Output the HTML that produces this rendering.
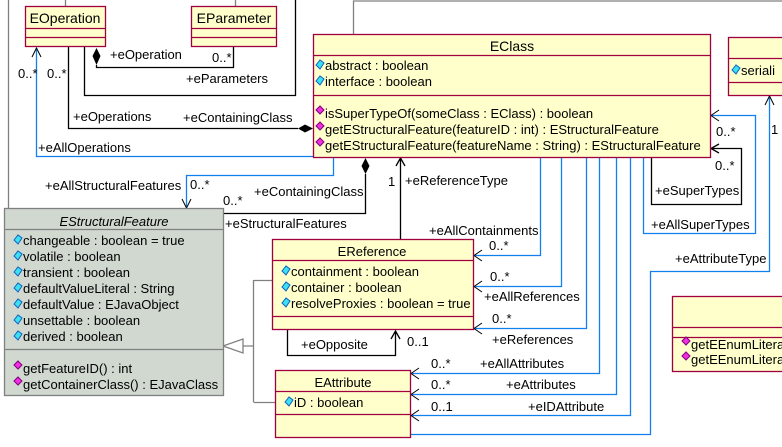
<!DOCTYPE html>
<html><head><meta charset="utf-8"><style>
html,body{margin:0;padding:0;background:#fff;}
svg{display:block;font-family:"Liberation Sans",sans-serif;font-size:13px;}
</style></head><body>
<svg width="782" height="447" viewBox="0 0 782 447" xmlns="http://www.w3.org/2000/svg">
<defs>
<g id="ad"><path d="M0,5 L4,0 L8,3 L4,9 Z" fill="#3ee0f0" stroke="#1060c0" stroke-width="1"/></g>
<g id="od"><path d="M0,4 L4,0 L8,4 L4,8 Z" fill="#f030e0" stroke="#800080" stroke-width="1"/></g>
</defs>
<g fill="none" stroke="#808080" stroke-width="1.3">
<path d="M8.5,0 V209"/><path d="M353.5,34 V1 H782"/><path d="M65.5,0 V6"/><path d="M235.5,0 V6"/>
<path d="M243,346 H253.5 M253.5,280 V402 M253.5,280.5 H272 M253.5,402.5 H275"/>
<path d="M223,346 L243,339 L243,353 Z" fill="#fff"/>
</g>
<g fill="none" stroke="#000" stroke-width="1.3">
<path d="M84.5,47 V95.5 H295.5 V0"/>
<path d="M96.5,65 V67.5 H233.5 V46"/>
<path d="M68.5,47 V128.5 H298"/>
<path d="M365.5,174 V213.5 H224"/>
<path d="M400.5,239 V158 M396,166 L400.5,158 L405,166"/>
<path d="M651.5,157 V204.5 H741.5 V148.5 H711 M719,144 L711,148.5 L719,153"/>
<path d="M287.5,330 V355.5 H395.5 V331 M391,339 L395.5,331 L400,339"/>
</g>
<path d="M96.5,48 L100.5,56 L96.5,65 L92.5,56 Z" fill="#000"/>
<path d="M298,128.5 L305,124.5 L313,128.5 L305,132.5 Z" fill="#000"/>
<path d="M365.5,158 L369.5,166 L365.5,174 L361.5,166 Z" fill="#000"/>
<g fill="none" stroke="#1080f0" stroke-width="1.3">
<path d="M36.5,48 V156.5 H313"/>
<path d="M333.5,157 V175.5 H186.5 V207"/>
<path d="M540.5,157 V255.5 H474"/>
<path d="M561.5,157 V286.5 H474"/>
<path d="M586.5,157 V328.5 H474"/>
<path d="M599.5,157 V373.5 H411"/>
<path d="M616.5,157 V394.5 H411"/>
<path d="M630.5,157 V415.5 H411"/>
<path d="M643.5,157 V233.5 H755.5 V115.5 H711"/>
<path d="M769.5,96 V271.5 H650.5 V434.5 H411"/>
</g>
<g fill="none" stroke="#000" stroke-width="1">
<path d="M32,57 L36.5,48 L41,57"/>
<path d="M182,199 L186.5,208 L191,199"/>
<path d="M482,250 L474,255.5 L482,261"/>
<path d="M482,281 L474,286.5 L482,292"/>
<path d="M482,323 L474,328.5 L482,334"/>
<path d="M419,368 L411,373.5 L419,379"/>
<path d="M419,389 L411,394.5 L419,400"/>
<path d="M419,410 L411,415.5 L419,421"/>
<path d="M719,110 L711,115.5 L719,121"/>
<path d="M765,105 L769.5,96 L774,105"/>
</g>
<g stroke="#a00040" stroke-width="1.3" fill="#ffffcc">
<rect x="25.5" y="6.5" width="80" height="40"/><path d="M25.5,28.5 H105.5 M25.5,37.5 H105.5"/>
<rect x="191.5" y="6.5" width="85" height="40"/><path d="M191.5,28.5 H276.5 M191.5,37.5 H276.5"/>
<rect x="313.5" y="34.5" width="397" height="123"/><path d="M313.5,55.5 H710.5 M313.5,95.5 H710.5"/>
<rect x="728.5" y="37.5" width="60" height="58"/><path d="M728.5,58.5 H782 M728.5,82.5 H782"/>
<rect x="272.5" y="239.5" width="201" height="90"/><path d="M272.5,260.5 H473.5 M272.5,316.5 H473.5"/>
<rect x="275.5" y="370.5" width="135" height="67"/><path d="M275.5,391.5 H410.5 M275.5,414.5 H410.5"/>
<rect x="672.5" y="296.5" width="120" height="75"/><path d="M672.5,327.5 H782 M672.5,337.5 H782"/>
</g>
<g stroke="#808080" stroke-width="1.3" fill="#d0d8d0">
<rect x="4.5" y="208.5" width="219" height="187"/><path d="M4.5,229.5 H223.5 M4.5,349.5 H223.5"/>
</g>
<g fill="#000">
<text x="65" y="23" text-anchor="middle" font-size="14">EOperation</text>
<text x="234" y="23" text-anchor="middle" font-size="14">EParameter</text>
<text x="512" y="51" text-anchor="middle" font-size="14">EClass</text>
<use href="#ad" x="316" y="60"/><text x="325" y="70">abstract : boolean</text>
<use href="#ad" x="316" y="76"/><text x="325" y="86">interface : boolean</text>
<use href="#od" x="316" y="106"/><text x="325" y="118">isSuperTypeOf(someClass : EClass) : boolean</text>
<use href="#od" x="316" y="122"/><text x="325" y="134">getEStructuralFeature(featureID : int) : EStructuralFeature</text>
<use href="#od" x="316" y="138"/><text x="325" y="150">getEStructuralFeature(featureName : String) : EStructuralFeature</text>
<use href="#ad" x="732" y="65"/><text x="741" y="75">seriali</text>
<text x="114" y="226" text-anchor="middle" font-style="italic">EStructuralFeature</text>
<use href="#ad" x="14" y="235"/><text x="23" y="245">changeable : boolean = true</text>
<use href="#ad" x="14" y="251"/><text x="23" y="261">volatile : boolean</text>
<use href="#ad" x="14" y="267"/><text x="23" y="277">transient : boolean</text>
<use href="#ad" x="14" y="283"/><text x="23" y="293">defaultValueLiteral : String</text>
<use href="#ad" x="14" y="299"/><text x="23" y="309">defaultValue : EJavaObject</text>
<use href="#ad" x="14" y="315"/><text x="23" y="325">unsettable : boolean</text>
<use href="#ad" x="14" y="331"/><text x="23" y="341">derived : boolean</text>
<use href="#od" x="14" y="361"/><text x="23" y="373">getFeatureID() : int</text>
<use href="#od" x="14" y="377"/><text x="23" y="389">getContainerClass() : EJavaClass</text>
<text x="372" y="256" text-anchor="middle">EReference</text>
<use href="#ad" x="282" y="266"/><text x="291" y="276">containment : boolean</text>
<use href="#ad" x="282" y="282"/><text x="291" y="292">container : boolean</text>
<use href="#ad" x="282" y="298"/><text x="291" y="308">resolveProxies : boolean = true</text>
<text x="343" y="387" text-anchor="middle">EAttribute</text>
<use href="#ad" x="285" y="397"/><text x="294" y="407">iD : boolean</text>
<use href="#od" x="682" y="337"/><text x="691" y="349">getEEnumLitera</text>
<use href="#od" x="682" y="352"/><text x="691" y="364">getEEnumLitera</text>
</g>
<g fill="#000">
<text x="110" y="59">+eOperation</text><text x="212" y="62">0..*</text>
<text x="186" y="83">+eParameters</text>
<text x="18" y="78">0..*</text><text x="47" y="78">0..*</text>
<text x="73" y="121">+eOperations</text><text x="183" y="122">+eContainingClass</text>
<text x="38" y="152">+eAllOperations</text>
<text x="45" y="190">+eAllStructuralFeatures</text><text x="190" y="189">0..*</text>
<text x="254" y="196">+eContainingClass</text><text x="223" y="205">0..*</text>
<text x="225" y="228">+eStructuralFeatures</text>
<text x="388" y="186">1</text><text x="405" y="185">+eReferenceType</text>
<text x="429" y="235">+eAllContainments</text><text x="489" y="250">0..*</text>
<text x="490" y="281">0..*</text><text x="484" y="301">+eAllReferences</text>
<text x="492" y="323">0..*</text><text x="492" y="344">+eReferences</text>
<text x="301" y="349">+eOpposite</text><text x="407" y="346">0..1</text>
<text x="431" y="368">0..*</text><text x="480" y="368">+eAllAttributes</text>
<text x="431" y="389">0..*</text><text x="506" y="389">+eAttributes</text>
<text x="431" y="411">0..1</text><text x="528" y="411">+eIDAttribute</text>
<text x="716" y="136">0..*</text><text x="771" y="134">1</text>
<text x="715" y="170">0..*</text><text x="655" y="195">+eSuperTypes</text>
<text x="651" y="229">+eAllSuperTypes</text>
<text x="675" y="263">+eAttributeType</text>
</g>
</svg>
</body></html>
